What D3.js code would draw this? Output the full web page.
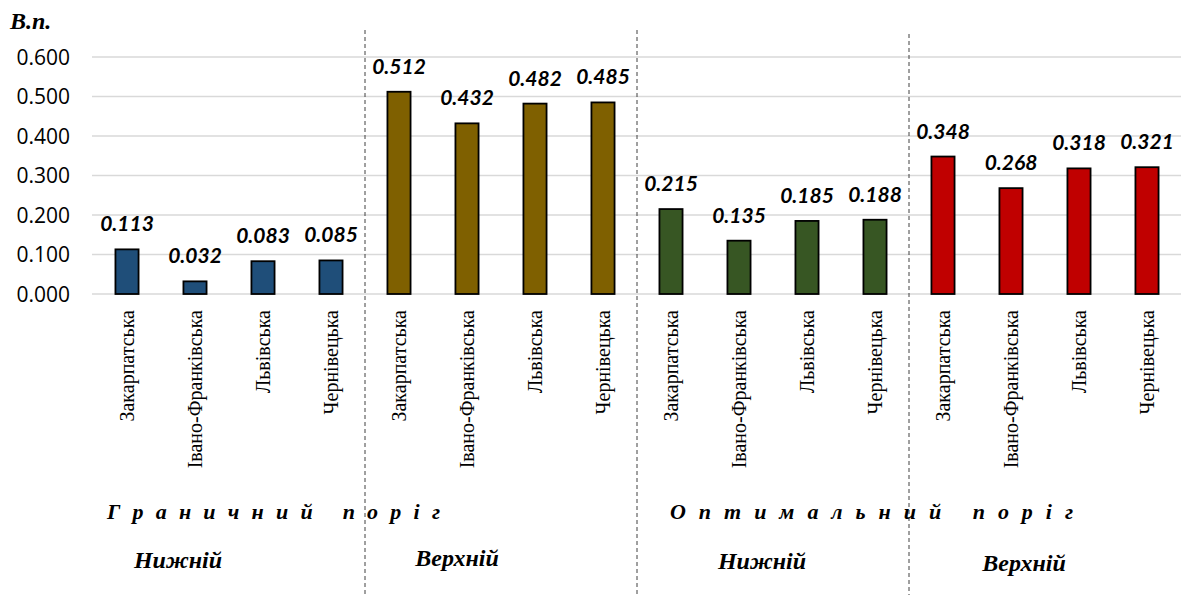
<!DOCTYPE html>
<html><head><meta charset="utf-8"><script src="https://cdn.jsdelivr.net/npm/d3@7"></script></head>
<body style="margin:0">
<svg id="s" width="1184" height="595" style="display:block;background:#fff"></svg>
<script>
const regions = ["Закарпатська","Івано-Франківська","Львівська","Чернівецька"];
const groupNames = ["Граничний нижній","Граничний верхній","Оптимальний нижній","Оптимальний верхній"];
const limitLower = [0.113,0.032,0.083,0.085];
const limitUpper = [0.512,0.432,0.482,0.485];
const optimalLower = [0.215,0.135,0.185,0.188];
const optimalUpper = [0.348,0.268,0.318,0.321];
const seriesValues = [limitLower, limitUpper, optimalLower, optimalUpper];
const seriesColors = ["#1F4E79","#7F6000","#375623","#C00000"];
const yTicks = [0,0.1,0.2,0.3,0.4,0.5,0.6];
const yTitle = "В.п.";
const subLabels = ["Нижній","Верхній","Нижній","Верхній"];
const topLabels = ["Г р а н и ч н и й   п о р і г","О п т и м а л ь н и й   п о р і г"];

const SERIF = "Liberation Serif";
const SANS = "Open Sans";
const LBL = "Lato";
const fam = f => `"${f}"`;

const data = [];
seriesValues.forEach((vals,g)=>vals.forEach((v,i)=>data.push({g,i,region:regions[i],value:v,key:g*4+i})));

const svg = d3.select("#s");
const x = d3.scaleBand().domain(d3.range(data.length)).range([93,1181]).paddingInner(0.66).paddingOuter(0.33);
const y = d3.scaleLinear().domain([0,0.6]).range([294,57]);

svg.selectAll("line.grid").data(yTicks).join("line").attr("class","grid")
  .attr("x1",92).attr("x2",1181)
  .attr("y1",d=>y(d)).attr("y2",d=>y(d))
  .attr("stroke","#d9d9d9").attr("stroke-width",1.5);

svg.selectAll("text.ytick").data(yTicks).join("text").attr("class","ytick")
  .attr("x",70).attr("y",d=>y(d)).attr("dy","0.36em")
  .attr("text-anchor","end")
  .style("font-family",d=>fam(SANS)).style("font-size","21px")
  .text(d=>d3.format(".3f")(d));

svg.selectAll("text.ytitle").data([yTitle]).join("text").attr("class","ytitle")
  .attr("x",10).attr("y",29)
  .style("font-family",d=>fam(SERIF)).style("font-size","24px")
  .style("font-weight","bold").style("font-style","italic").text(d=>d);

const sepX = [4,8,12].map(k=>x(k)-x.step()*x.paddingInner()/2);
const sepTop = [30,30,34];
svg.selectAll("line.sep").data(sepX).join("line").attr("class","sep")
  .attr("x1",d=>d).attr("x2",d=>d).attr("y1",(d,i)=>sepTop[i]).attr("y2",595)
  .attr("stroke","#404040").attr("stroke-width",1).attr("stroke-dasharray","4,3");

svg.selectAll("rect.bar").data(data).join("rect").attr("class","bar")
  .attr("x",d=>x(d.key)).attr("width",x.bandwidth())
  .attr("y",d=>y(d.value)).attr("height",d=>y(0)-y(d.value))
  .attr("fill",d=>seriesColors[d.g]).attr("stroke","#000").attr("stroke-width",1.8);

svg.selectAll("text.val").data(data).join("text").attr("class","val")
  .attr("x",d=>x(d.key)+x.bandwidth()/2).attr("y",d=>y(d.value)-18)
  .attr("text-anchor","middle")
  .style("font-family",d=>fam(LBL)).style("font-size","21px")
  .style("font-weight","bold").style("font-style","italic")
  .text(d=>d3.format(".3f")(d.value));

svg.selectAll("text.cat").data(data).join("text").attr("class","cat")
  .attr("transform",d=>`translate(${x(d.key)+x.bandwidth()/2+7},310) rotate(-90)`)
  .attr("text-anchor","end")
  .style("font-family",d=>fam(SERIF)).style("font-size","20px")
  .text(d=>d.region);

const topPos = [{x:107,len:333},{x:670,len:403}];
svg.selectAll("text.top").data(topLabels).join("text").attr("class","top")
  .attr("x",(d,i)=>topPos[i].x).attr("y",519)
  .style("white-space","pre")
  .attr("textLength",(d,i)=>topPos[i].len).attr("lengthAdjust","spacing")
  .style("font-family",d=>fam(SERIF)).style("font-size","22px")
  .style("font-weight","bold").style("font-style","italic")
  .text(d=>d);

const subPos = [{x:178,y:568},{x:457,y:566},{x:762,y:569},{x:1024,y:571}];
svg.selectAll("text.sub").data(subLabels).join("text").attr("class","sub")
  .attr("x",(d,i)=>subPos[i].x).attr("y",(d,i)=>subPos[i].y)
  .attr("text-anchor","middle")
  .style("font-family",d=>fam(SERIF)).style("font-size","24px")
  .style("font-weight","bold").style("font-style","italic")
  .text(d=>d);
</script></body></html>
